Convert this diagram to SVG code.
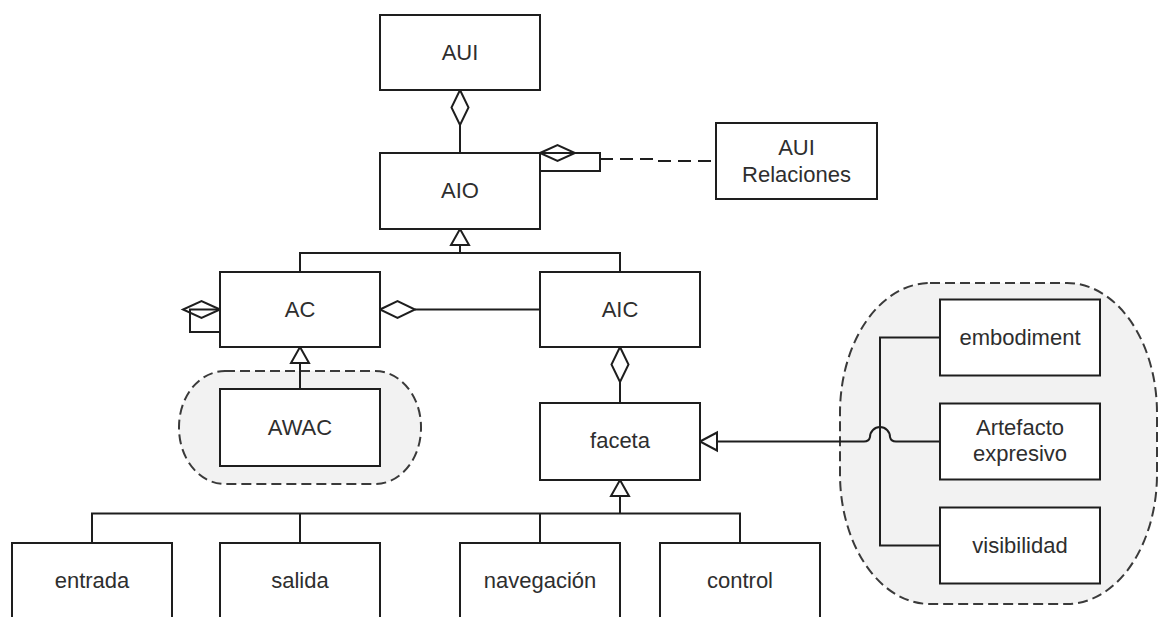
<svg xmlns="http://www.w3.org/2000/svg" width="1158" height="617" viewBox="0 0 1158 617">
  <style>
    .box { fill: #ffffff; stroke: #1e1e1e; stroke-width: 2; }
    .lbl { font-family: "Liberation Sans", Arial, sans-serif; font-size: 22px; fill: #2e2e2e; text-anchor: middle; }
    .ln { fill: none; stroke: #1e1e1e; stroke-width: 2; }
    .dash { fill: none; stroke: #1e1e1e; stroke-width: 2; stroke-dasharray: 13 7; }
    .grp { fill: #f2f2f2; stroke: #3a3a3a; stroke-width: 2; stroke-dasharray: 10 5; }
    .dia { fill: #ffffff; stroke: #1e1e1e; stroke-width: 2; stroke-linejoin: miter; }
    .dia-open { fill: none; stroke: #1e1e1e; stroke-width: 2; }
    .tri { fill: #ffffff; stroke: #1e1e1e; stroke-width: 2; stroke-linejoin: miter; }
  </style>

  <rect width="1158" height="617" fill="#ffffff"/>

  <!-- grouping shapes -->
  <g id="group-awac">
    <rect class="grp" x="179" y="371" width="242" height="113" rx="46" ry="56"/>
  </g>
  <g id="group-facet-props">
    <rect class="grp" x="840" y="283" width="317" height="321" rx="90" ry="130"/>
  </g>

  <!-- connectors -->
  <g id="connectors">
    <!-- AUI <>- AIO -->
    <path class="dia" d="M460,90 L468.5,107.5 L460,125 L451.5,107.5 Z"/>
    <path class="ln" d="M460,125 V153"/>

    <!-- AIO self aggregation -->
    <path class="ln" d="M540,153 H600 V171 H540"/>
    <path class="dia-open" d="M540,153 L557.5,145 L575,153 L557.5,161 Z"/>

    <!-- AIO .. AUI Relaciones -->
    <path class="dash" d="M600,159 H655 V161 H716"/>

    <!-- generalisation AC / AIC -> AIO -->
    <path class="ln" d="M300,272 V253 H620 V272"/>
    <path class="ln" d="M460,253 V245"/>
    <path class="tri" d="M460,229 L469,245 L451,245 Z"/>

    <!-- AC self aggregation -->
    <path class="ln" d="M220,309.5 H190 V332 H220"/>
    <path class="dia-open" d="M220,309.5 L201.5,301 L183,309.5 L201.5,318 Z"/>

    <!-- AC <>- AIC -->
    <path class="dia" d="M380,309.5 L397.5,301 L415,309.5 L397.5,318 Z"/>
    <path class="ln" d="M415,309.5 H540"/>

    <!-- AWAC -> AC -->
    <path class="ln" d="M300,389 V363"/>
    <path class="tri" d="M300,347 L309,363 L291,363 Z"/>

    <!-- AIC <>- faceta -->
    <path class="dia" d="M620,347 L628.5,364.5 L620,382 L611.5,364.5 Z"/>
    <path class="ln" d="M620,382 V403"/>

    <!-- facet kinds -> faceta -->
    <path class="ln" d="M92,543 V513.5 H740 V543"/>
    <path class="ln" d="M300,513.5 V543"/>
    <path class="ln" d="M540,513.5 V543"/>
    <path class="ln" d="M620,513.5 V496"/>
    <path class="tri" d="M620,480 L629,496 L611,496 Z"/>

    <!-- facet properties -> faceta -->
    <path class="ln" d="M940,337.5 H880 V545.5 H940"/>
    <path class="ln" d="M717,441.5 H864 Q869,441.5 870,437 A10,10 0 0 1 890,437 Q891,441.5 896,441.5 H940"/>
    <path class="tri" d="M700,441.5 L717,432.5 L717,450.5 Z"/>
  </g>

  <!-- nodes -->
  <g id="node-aui">
    <rect class="box" x="380" y="15" width="160" height="75"/>
    <text class="lbl" x="460" y="60">AUI</text>
  </g>
  <g id="node-aio">
    <rect class="box" x="380" y="153" width="160" height="76"/>
    <text class="lbl" x="460" y="198">AIO</text>
  </g>
  <g id="node-aui-relaciones">
    <rect class="box" x="716" y="123" width="161" height="76"/>
    <text class="lbl" x="796.5" y="154.5">AUI</text>
    <text class="lbl" x="796.5" y="181.5">Relaciones</text>
  </g>
  <g id="node-ac">
    <rect class="box" x="220" y="272" width="160" height="75"/>
    <text class="lbl" x="300" y="317">AC</text>
  </g>
  <g id="node-aic">
    <rect class="box" x="540" y="272" width="160" height="75"/>
    <text class="lbl" x="620" y="317">AIC</text>
  </g>
  <g id="node-awac">
    <rect class="box" x="220" y="389" width="160" height="77"/>
    <text class="lbl" x="300" y="435">AWAC</text>
  </g>
  <g id="node-faceta">
    <rect class="box" x="540" y="403" width="160" height="77"/>
    <text class="lbl" x="620" y="448">faceta</text>
  </g>
  <g id="node-embodiment">
    <rect class="box" x="940" y="299.5" width="160" height="76"/>
    <text class="lbl" x="1020" y="344.5">embodiment</text>
  </g>
  <g id="node-artefacto">
    <rect class="box" x="940" y="403.5" width="160" height="76"/>
    <text class="lbl" x="1020" y="434.5">Artefacto</text>
    <text class="lbl" x="1020" y="461">expresivo</text>
  </g>
  <g id="node-visibilidad">
    <rect class="box" x="940" y="507.5" width="160" height="76"/>
    <text class="lbl" x="1020" y="552.5">visibilidad</text>
  </g>
  <g id="node-entrada">
    <rect class="box" x="12" y="543" width="160" height="80"/>
    <text class="lbl" x="92" y="588">entrada</text>
  </g>
  <g id="node-salida">
    <rect class="box" x="220" y="543" width="160" height="80"/>
    <text class="lbl" x="300" y="588">salida</text>
  </g>
  <g id="node-navegacion">
    <rect class="box" x="460" y="543" width="160" height="80"/>
    <text class="lbl" x="540" y="588">navegación</text>
  </g>
  <g id="node-control">
    <rect class="box" x="660" y="543" width="160" height="80"/>
    <text class="lbl" x="740" y="588">control</text>
  </g>
</svg>
